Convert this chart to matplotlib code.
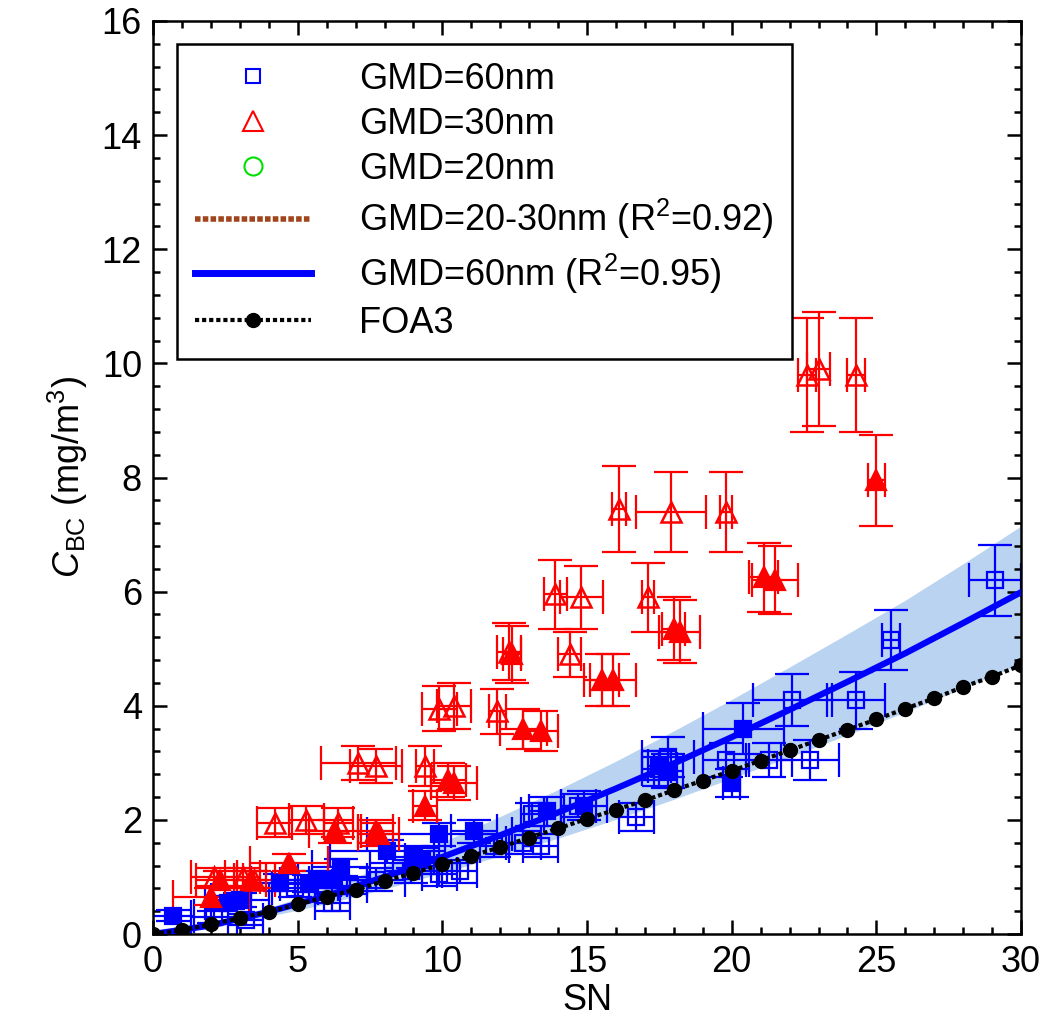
import matplotlib
matplotlib.use("Agg")
import matplotlib.pyplot as plt
from matplotlib.ticker import MultipleLocator

plt.rcParams["font.family"] = ["Liberation Sans", "DejaVu Sans"]
plt.rcParams["mathtext.fontset"] = "custom"
plt.rcParams["mathtext.rm"] = "Liberation Sans"
plt.rcParams["mathtext.it"] = "Liberation Sans:italic"
plt.rcParams["font.size"] = 26

# GMD=60nm, open squares: SN, C_BC, SN err, C_BC err
b_open_x = [29.1, 25.5, 22.1, 24.3, 22.7, 21.3, 19.8, 17.8, 17.5, 16.7, 13.1, 13.4, 12.8, 14.7,
            10.6, 9.9, 8.9, 7.7, 6.2, 4.9, 3.2, 2.1, 6.8, 11.8]
b_open_y = [6.2, 5.15, 4.1, 4.1, 3.05, 3.05, 3.05, 3.1, 2.9, 2.05, 2.1, 1.55, 1.6, 2.25,
            1.1, 1.05, 1.1, 0.95, 0.55, 0.8, 0.25, 0.3, 0.85, 1.55]
b_open_xe = [0.9, 0.3, 1.35, 1.0, 1.0, 0.8, 0.8, 0.9, 0.6, 0.6, 0.4, 0.6, 0.6, 0.6,
             0.6, 0.6, 0.9, 1.0, 0.6, 0.8, 0.6, 0.8, 0.6, 0.5]
b_open_ye = [0.62, 0.52, 0.45, 0.5, 0.35, 0.3, 0.3, 0.35, 0.3, 0.25, 0.2, 0.2, 0.2, 0.2,
             0.2, 0.2, 0.2, 0.2, 0.15, 0.15, 0.1, 0.1, 0.15, 0.2]

# GMD=60nm, filled squares
b_fill_x = [20.4, 20.0, 17.5, 17.8, 13.6, 14.9, 11.1, 9.9, 8.1, 9.0, 9.3, 6.5, 6.2, 5.4,
            4.4, 3.0, 2.6, 0.7, 5.7]
b_fill_y = [3.6, 2.65, 2.95, 2.85, 2.15, 2.25, 1.8, 1.75, 1.45, 1.35, 1.3, 1.17, 0.95, 0.88,
            0.9, 0.6, 0.55, 0.32, 0.95]
b_fill_xe = [1.4, 0.3, 0.4, 0.5, 0.6, 0.8, 0.8, 2.5, 2.0, 0.7, 0.6, 1.0, 1.2, 1.0,
             1.0, 1.0, 0.8, 0.7, 0.8]
b_fill_ye = [0.45, 0.25, 0.25, 0.3, 0.25, 0.25, 0.2, 0.2, 0.2, 0.2, 0.2, 0.15, 0.15, 0.15,
             0.15, 0.12, 0.12, 0.1, 0.15]

# GMD=30nm, open triangles
r_open_x = [22.6, 23.0, 24.3, 16.1, 17.9, 19.8, 13.9, 14.8, 17.1, 12.3, 14.4, 9.9, 10.4,
            11.9, 9.4, 7.1, 7.7, 4.2, 5.3, 6.4, 2.1, 3.1, 3.5]
r_open_y = [9.8, 9.9, 9.8, 7.45, 7.4, 7.4, 5.95, 5.9, 5.9, 4.95, 4.9, 3.95, 4.0,
            3.9, 2.95, 3.0, 2.95, 1.95, 2.0, 1.95, 1.0, 1.0, 0.95]
r_open_xe = [0.3, 0.4, 0.3, 0.25, 1.2, 0.2, 0.4, 0.75, 0.2, 0.4, 0.4, 0.6, 0.6,
             0.3, 0.3, 1.3, 0.9, 0.6, 0.6, 0.5, 0.8, 0.6, 0.7]
r_open_ye = [1.0, 1.0, 1.0, 0.75, 0.7, 0.7, 0.6, 0.55, 0.6, 0.5, 0.4, 0.4, 0.4,
             0.4, 0.35, 0.3, 0.3, 0.25, 0.25, 0.25, 0.15, 0.15, 0.15]

# GMD=30nm, filled triangles
r_fill_x = [25.0, 21.1, 21.5, 18.0, 18.2, 15.5, 15.9, 12.8, 13.4, 12.4, 10.2, 10.4, 9.4,
            6.3, 7.7, 7.8, 4.7, 2.3, 3.4, 2.0]
r_fill_y = [7.95, 6.25, 6.2, 5.35, 5.3, 4.45, 4.45, 3.6, 3.55, 4.9, 2.7, 2.65, 2.25,
            1.8, 1.8, 1.75, 1.25, 0.95, 0.95, 0.65]
r_fill_xe = [0.3, 0.5, 0.8, 0.4, 0.7, 0.6, 0.8, 0.8, 0.6, 0.3, 0.6, 0.8, 0.4,
             0.9, 0.6, 0.7, 1.35, 0.8, 0.5, 1.3]
r_fill_ye = [0.8, 0.6, 0.6, 0.55, 0.55, 0.45, 0.45, 0.35, 0.35, 0.5, 0.3, 0.3, 0.25,
             0.2, 0.2, 0.2, 0.15, 0.15, 0.15, 0.15]

# GMD=60nm fit and its band
fit_x = [0, 2, 4, 6, 8, 10, 12, 14, 16, 18, 20, 22, 24, 26, 28, 30]
fit_y = [0, 0.15, 0.39, 0.67, 1.0, 1.35, 1.73, 2.13, 2.55, 2.99, 3.45, 3.93, 4.42, 4.92, 5.45, 5.99]
band_hi = [0, 0.18, 0.46, 0.80, 1.19, 1.61, 2.06, 2.53, 3.03, 3.56, 4.11, 4.68, 5.26, 5.85, 6.49, 7.15]
band_lo = [0, 0.12, 0.31, 0.53, 0.79, 1.07, 1.37, 1.68, 2.01, 2.36, 2.73, 3.10, 3.49, 3.89, 4.31, 4.73]

# FOA3 curve
foa_x = list(range(31))
foa_y = [0, 0.07, 0.17, 0.28, 0.39, 0.52, 0.65, 0.78, 0.93, 1.07, 1.22, 1.37, 1.52, 1.69,
         1.85, 2.02, 2.18, 2.34, 2.52, 2.69, 2.86, 3.04, 3.22, 3.40, 3.58, 3.76, 3.95,
         4.13, 4.33, 4.51, 4.71]

fig = plt.figure(figsize=(10.57, 10.34), dpi=100)
ax = fig.add_axes([0.1448, 0.0967, 0.8212, 0.883])

ax.fill_between(fit_x, band_lo, band_hi, color="#b9d3f0", lw=0, zorder=1)

eb = dict(fmt="none", elinewidth=1.6, capsize=12, capthick=1.6, zorder=2)
ax.errorbar(b_open_x, b_open_y, xerr=b_open_xe, yerr=b_open_ye, ecolor="blue", **eb)
ax.errorbar(b_fill_x, b_fill_y, xerr=b_fill_xe, yerr=b_fill_ye, ecolor="blue", **eb)
ax.plot(b_open_x, b_open_y, "s", ms=12, mfc="none", mec="blue", mew=1.6, zorder=3)
ax.plot(b_fill_x, b_fill_y, "s", ms=12, mfc="blue", mec="blue", mew=1.6, zorder=3)

ax.errorbar(r_open_x, r_open_y, xerr=r_open_xe, yerr=r_open_ye, ecolor="red", **eb)
ax.errorbar(r_fill_x, r_fill_y, xerr=r_fill_xe, yerr=r_fill_ye, ecolor="red", **eb)
ax.plot(r_open_x, r_open_y, "^", ms=15, mfc="none", mec="red", mew=1.8, zorder=4)
ax.plot(r_fill_x, r_fill_y, "^", ms=15, mfc="red", mec="red", mew=1.6, zorder=4)

ax.plot(fit_x, fit_y, "-", color="blue", lw=4.5, zorder=5)
ax.plot(foa_x, foa_y, color="black", ls=(0, (1.0, 0.7)), lw=3, marker="o", ms=10, zorder=6)

# legend handles
h1, = ax.plot([], [], "s", ms=10, mfc="none", mec="blue", mew=1.5)
h2, = ax.plot([], [], "^", ms=14, mfc="none", mec="red", mew=1.5)
h3, = ax.plot([], [], "o", ms=13, mfc="none", mec="#00e000", mew=1.5)
h4, = ax.plot([], [], color="#a0461e", ls=(0, (1, 0.4)), lw=4)
h5, = ax.plot([], [], color="blue", lw=5)
h6, = ax.plot([], [], color="black", ls=(0, (1, 0.7)), lw=3, marker="o", ms=10)
leg = ax.legend([h1, h2, h3, h4, h5, h6],
                ["GMD=60nm", "GMD=30nm", "GMD=20nm",
                 "GMD=20-30nm (R$^2$=0.92)", "GMD=60nm (R$^2$=0.95)", "FOA3"],
                loc="upper left", bbox_to_anchor=(0.0276, 0.975), borderaxespad=0,
                fontsize=26, handlelength=3.2, handletextpad=1.35, labelspacing=0.28,
                borderpad=0.5, fancybox=False, framealpha=1, edgecolor="black")
leg.get_frame().set_linewidth(1.8)

ax.set_xlim(0, 30)
ax.set_ylim(0, 16)
ax.xaxis.set_major_locator(MultipleLocator(5))
ax.xaxis.set_minor_locator(MultipleLocator(1))
ax.yaxis.set_major_locator(MultipleLocator(2))
ax.yaxis.set_minor_locator(MultipleLocator(0.4))
ax.tick_params(which="both", direction="in", top=True, right=True, width=1.8)
ax.tick_params(which="major", length=10, labelsize=26, pad=8)
ax.tick_params(which="minor", length=5)
for s in ax.spines.values():
    s.set_linewidth(1.8)

ax.set_xlabel("SN", fontsize=26, labelpad=2)
ax.set_ylabel(r"$C_{\mathrm{BC}}$ (mg/m$^3$)", fontsize=26, labelpad=8)

fig.savefig("out.png", dpi=100)
